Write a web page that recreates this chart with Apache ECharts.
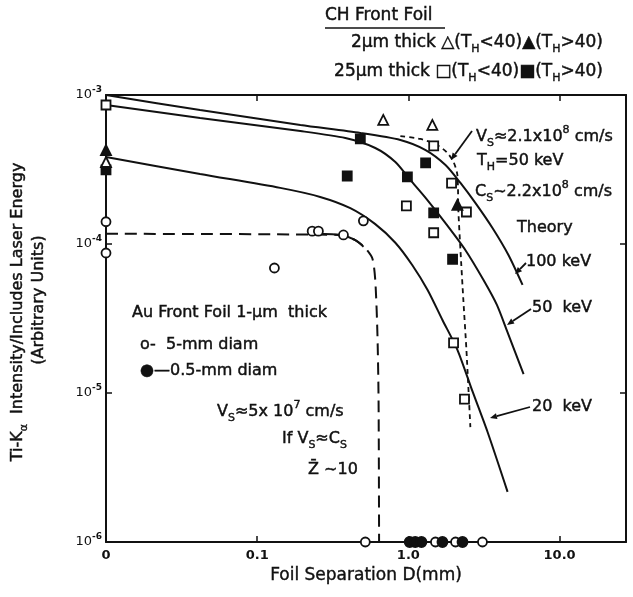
<!DOCTYPE html>
<html>
<head>
<meta charset="utf-8">
<script src="https://cdn.jsdelivr.net/npm/echarts@6/dist/echarts.min.js"></script>
<style>
  html, body { margin: 0; padding: 0; background: #fff; }
  #chart { width: 633px; height: 597px; }
</style>
</head>
<body>
<div id="chart"></div>
<script>
// Ti-Ka intensity vs foil separation (log-log)
var FONT = 'DejaVu Sans';
var INK = '#111';

// x tick labels by decade exponent (the "0" sits at 0.01)
var xTickLabels = { '-2': '0', '-1': '0.1', '0': '1.0', '1': '10.0' };

// theory curves [D (mm), intensity]
var theory100 = [[0.01, 1.0e-3], [0.0419, 7.93e-4], [0.193, 6.29e-4], [0.481, 5.56e-4], [0.885, 4.99e-4],
  [1.30, 4.27e-4], [1.76, 3.39e-4], [2.21, 2.57e-4], [2.78, 1.88e-4], [3.60, 1.28e-4], [4.59, 8.43e-5], [5.69, 5.31e-5]];
var theory50 = [[0.01, 8.57e-4], [0.0419, 7.01e-4], [0.193, 5.73e-4], [0.383, 5.14e-4], [0.604, 4.41e-4],
  [0.82, 3.55e-4], [1.03, 2.69e-4], [1.30, 2.04e-4], [1.76, 1.38e-4], [2.38, 9.12e-5], [3.14, 5.73e-5],
  [3.85, 3.9e-5], [4.53, 2.55e-5], [5.78, 1.34e-5]];
var theory20 = [[0.01, 3.84e-4], [0.0419, 2.95e-4], [0.142, 2.38e-4], [0.261, 2.07e-4], [0.413, 1.74e-4],
  [0.604, 1.36e-4], [0.82, 1.02e-4], [1.06, 7.23e-5], [1.34, 4.91e-5], [1.68, 3.09e-5], [2.11, 1.95e-5],
  [2.66, 1.02e-5], [3.34, 5.47e-6], [4.53, 2.17e-6]];

// Au front foil (Vs ~ 5e7 cm/s), long dashes + short solid piece
var auDashed = [[0.01, 1.17e-4], [0.355, 1.15e-4], [0.446, 1.06e-4], [0.519, 9.4e-5], [0.578, 8.0e-5],
  [0.604, 5.7e-5], [0.624, 2.5e-5], [0.635, 9e-6], [0.64, 1e-6]];
var auSolid = [[0.218, 1.17e-4], [0.355, 1.15e-4], [0.44, 1.07e-4], [0.505, 9.6e-5]];

// CH front foil (Vs ~ 2.1e8 cm/s), short dashes
var chDashed = [[0.885, 5.3e-4], [1.20, 5.07e-4], [1.51, 4.69e-4], [1.79, 4.14e-4], [1.99, 3.55e-4],
  [2.11, 2.9e-4], [2.14, 1.69e-4], [2.21, 9.1e-5], [2.31, 4.2e-5], [2.42, 1.95e-5], [2.57, 5.9e-6]];

// measured points
var openSquares = [[0.01, 8.57e-4], [1.47, 4.55e-4], [1.93, 2.56e-4], [0.97, 1.80e-4], [1.47, 1.19e-4],
  [2.42, 1.64e-4], [1.99, 2.17e-5], [2.35, 9.1e-6]];
var filledSquares = [[0.481, 5.07e-4], [0.394, 2.86e-4], [0.985, 2.82e-4], [1.30, 3.50e-4], [1.47, 1.62e-4],
  [1.96, 7.9e-5], [0.01, 3.14e-4]];
var openTriangles = [[0.682, 6.8e-4], [1.44, 6.3e-4], [0.01, 3.55e-4]];
var filledTriangles = [[2.11, 1.83e-4], [0.01, 4.27e-4]];
var openCircles = [[0.01, 1.41e-4], [0.01, 8.7e-5], [0.130, 6.9e-5], [0.231, 1.22e-4], [0.254, 1.22e-4],
  [0.372, 1.15e-4], [0.504, 1.43e-4], [0.519, 1e-6], [1.51, 1e-6], [2.05, 1e-6], [3.09, 1e-6]];
var filledCircles = [[1.02, 1e-6], [1.11, 1e-6], [1.22, 1e-6], [1.68, 1e-6], [2.28, 1e-6]];

var chart = echarts.init(document.getElementById('chart'));

function isDecade(v) {
  var l = Math.log10(v);
  return Math.abs(l - Math.round(l)) < 0.01;
}

function lineSeries(data, dash, width) {
  return {
    type: 'line', data: data, smooth: 0.25, showSymbol: false, symbol: 'none', z: 3,
    lineStyle: { color: INK, width: width || 2, type: dash || 'solid' },
    silent: true, clip: false
  };
}

function pointSeries(data, symbol, size, filled) {
  return {
    type: 'scatter', data: data, symbol: symbol, symbolSize: size, z: 5, clip: false,
    itemStyle: { color: filled ? INK : '#fff', borderColor: INK, borderWidth: 1.8, opacity: 1 }
  };
}

var richSub = { fontSize: 11, lineHeight: 12, verticalAlign: 'bottom', fontFamily: FONT, fill: INK, color: INK,
  stroke: INK, lineWidth: 0.4 };
var richSup = { fontSize: 11, lineHeight: 12, verticalAlign: 'top', fontFamily: FONT, fill: INK, color: INK,
  stroke: INK, lineWidth: 0.4 };

function txt(x, y, text, opts) {
  opts = opts || {};
  var fs = opts.size || 16;
  return {
    type: 'text', x: x, y: y, rotation: opts.rot || 0, z: 10,
    style: {
      text: text, fill: INK, stroke: INK, lineWidth: 0.45, fontFamily: FONT, fontSize: fs,
      font: fs + 'px "' + FONT + '"', lineHeight: opts.lh || 24,
      textAlign: opts.align || 'left', align: opts.align || 'left',
      textVerticalAlign: 'middle', verticalAlign: 'middle',
      rich: { s: richSub, u: richSup }
    }
  };
}

function arrow(x1, y1, x2, y2) {
  var a = Math.atan2(y2 - y1, x2 - x1), L = 7, W = 3;
  var bx = x2 - L * Math.cos(a), by = y2 - L * Math.sin(a);
  var px = -Math.sin(a) * W, py = Math.cos(a) * W;
  return [
    { type: 'line', z: 10, shape: { x1: x1, y1: y1, x2: bx, y2: by }, style: { stroke: INK, lineWidth: 1.8 } },
    { type: 'polygon', z: 10, shape: { points: [[x2, y2], [bx + px, by + py], [bx - px, by - py]] }, style: { fill: INK } }
  ];
}

var graphics = [
  txt(325, 16, 'CH Front Foil', { size: 17 }),
  { type: 'line', z: 10, shape: { x1: 325, y1: 28, x2: 445, y2: 28 }, style: { stroke: INK, lineWidth: 1.3 } },
  txt(603, 43, '2μm thick △(T{s|H}<40)▲(T{s|H}>40)', { align: 'right', size: 17 }),
  txt(603, 72, '25μm thick □(T{s|H}<40)■(T{s|H}>40)', { align: 'right', size: 17 }),
  txt(476, 137, 'V{s|S}≈2.1x10{u|8} cm/s'),
  txt(477, 161, 'T{s|H}=50 keV'),
  txt(475, 192, 'C{s|S}~2.2x10{u|8} cm/s'),
  txt(517, 228, 'Theory'),
  txt(526, 262, '100 keV'),
  txt(532, 308, '50  keV'),
  txt(532, 407, '20  keV'),
  txt(132, 313, 'Au Front Foil 1-μm  thick'),
  txt(140, 345, 'o-  5-mm diam'),
  txt(140, 371, '●—0.5-mm diam'),
  txt(217, 412, 'V{s|S}≈5x 10{u|7} cm/s'),
  txt(282, 439, 'If V{s|S}≈C{s|S}'),
  txt(308, 470, 'Z̄ ~10'),
  txt(18, 312, 'Ti-K{s|α}  Intensity/Includes Laser Energy', { rot: Math.PI / 2, align: 'center', size: 16 }),
  txt(39, 300, '(Arbitrary Units)', { rot: Math.PI / 2, align: 'center', size: 16 })
];
graphics = graphics.concat(arrow(472, 131, 451, 160), arrow(526, 263, 515, 274),
  arrow(531, 309, 507, 325), arrow(530, 407, 490, 418));

var xBase = {
  type: 'log', logBase: 10, min: 0.01, max: 27.5,
  axisLine: { show: true, lineStyle: { color: INK, width: 2 } },
  axisTick: { show: true, inside: true, length: 6, lineStyle: { color: INK, width: 1.5 } },
  minorTick: { show: false }, splitLine: { show: false }
};
var yBase = {
  type: 'log', logBase: 10, min: 1e-6, max: 1e-3,
  axisLine: { show: true, lineStyle: { color: INK, width: 2 } },
  axisTick: { show: true, inside: true, length: 6, lineStyle: { color: INK, width: 1.5 } },
  minorTick: { show: false }, splitLine: { show: false }
};

chart.setOption({
  backgroundColor: '#fff',
  animation: false,
  textStyle: { fontFamily: FONT, color: INK },
  grid: { left: 106, top: 95, right: 7, bottom: 55, show: false },
  xAxis: [
    Object.assign({}, xBase, {
      position: 'bottom',
      name: 'Foil Separation D(mm)', nameLocation: 'middle', nameGap: 25,
      nameTextStyle: { fontSize: 17, color: INK, fontFamily: FONT, textBorderColor: INK, textBorderWidth: 0.4 },
      axisLabel: {
        margin: 7, fontSize: 13, color: INK, fontFamily: FONT, fontWeight: 'bold',
        formatter: function (v) {
          if (!isDecade(v)) return '';
          return xTickLabels[String(Math.round(Math.log10(v)))] || '';
        }
      }
    }),
    Object.assign({}, xBase, { position: 'top', axisLabel: { show: false } })
  ],
  yAxis: [
    Object.assign({}, yBase, {
      position: 'left',
      axisLabel: {
        margin: 4, fontSize: 13, color: INK, fontFamily: FONT, lineHeight: 20,
        formatter: function (v) {
          if (!isDecade(v)) return '';
          return '10{u|-' + Math.abs(Math.round(Math.log10(v))) + '}';
        },
        rich: { u: { fontSize: 9, lineHeight: 10, verticalAlign: 'top', color: INK, fontFamily: FONT, fontWeight: 'bold' } }
      }
    }),
    Object.assign({}, yBase, { position: 'right', axisLabel: { show: false } })
  ],
  series: [
    lineSeries(theory100),
    lineSeries(theory50),
    lineSeries(theory20),
    lineSeries(auDashed, [12, 7], 2),
    lineSeries(auSolid, 'solid', 2),
    lineSeries(chDashed, [5, 4], 1.8),
    pointSeries(openSquares, 'rect', 9, false),
    pointSeries(filledSquares, 'rect', 9, true),
    pointSeries(openTriangles, 'triangle', 10, false),
    pointSeries(filledTriangles, 'triangle', 10, true),
    pointSeries(openCircles, 'circle', 9, false),
    pointSeries(filledCircles, 'circle', 10, true)
  ],
  graphic: graphics
});
</script>
</body>
</html>
